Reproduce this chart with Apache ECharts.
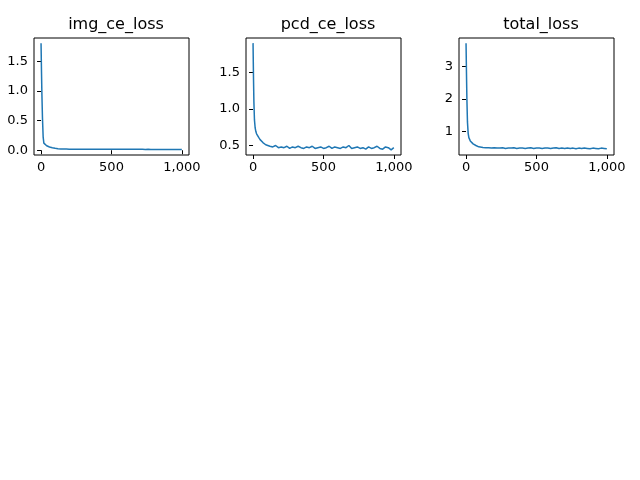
<!DOCTYPE html>
<html>
<head>
<meta charset="utf-8">
<script src="https://cdn.jsdelivr.net/npm/echarts@6/dist/echarts.min.js"></script>
<style>html,body{margin:0;background:#fff}#c{width:640px;height:480px}</style>
</head>
<body>
<div id="c"></div>
<script>
// training steps (sampled)
var steps = [0,3,6,10,15,20,25,30,40,50,60,70,80,90,100,
  120,140,160,180,200,220,240,260,280,300,320,340,360,380,400,420,440,460,480,500,520,540,560,580,600,620,640,660,680,700,720,740,760,780,800,820,840,860,880,900,920,940,960,980,999];

var imgLoss = [1.80,1.35,0.95,0.55,0.22,0.12,0.10,0.09,0.075,0.065,0.055,0.048,0.042,0.036,0.032,
  0.026,0.022,0.020,0.019,0.018, 0.018,0.017,0.017,0.017,0.016, 0.017,0.016,0.016,0.016,0.016,
  0.016,0.016,0.015,0.016,0.015, 0.015,0.015,0.015,0.015,0.015, 0.015,0.015,0.015,0.015,0.015,
  0.015,0.014,0.015,0.014,0.014, 0.014,0.014,0.014,0.014,0.014, 0.014,0.014,0.014,0.014,0.014];

var pcdLoss = [1.90,1.45,1.10,0.85,0.74,0.69,0.66,0.64,0.61,0.58,0.56,0.54,0.53,0.51,0.50,
  0.49,0.48,0.50,0.47,0.48, 0.47,0.49,0.46,0.48,0.47, 0.49,0.47,0.46,0.48,0.47,
  0.49,0.46,0.47,0.48,0.46, 0.47,0.49,0.46,0.48,0.47, 0.46,0.48,0.47,0.50,0.46,
  0.47,0.48,0.46,0.47,0.45, 0.48,0.46,0.47,0.49,0.46, 0.45,0.48,0.47,0.44,0.47];

var totalLoss = [3.70,2.80,2.00,1.30,0.95,0.82,0.76,0.72,0.67,0.63,0.60,0.58,0.56,0.54,0.53,
  0.52,0.51,0.51,0.50,0.51, 0.50,0.50,0.51,0.49,0.50, 0.50,0.51,0.49,0.50,0.50,
  0.49,0.50,0.51,0.49,0.50, 0.50,0.49,0.50,0.50,0.49, 0.50,0.51,0.49,0.50,0.49,
  0.50,0.49,0.50,0.48,0.50, 0.49,0.50,0.49,0.48,0.50, 0.49,0.48,0.50,0.49,0.48];

var titles = ['img_ce_loss', 'pcd_ce_loss', 'total_loss'];
var xTicks = [0, 500, 1000];
var yTicks = [[0, 0.5, 1.0, 1.5], [0.5, 1.0, 1.5], [1, 2, 3]];
var yRanges = [[-0.08, 1.89], [0.37, 1.97], [0.29, 3.86]];
var yDigits = [1, 1, 0];
var allData = [imgLoss, pcdLoss, totalLoss];

var lefts = [34, 246, 459];
var font = 'DejaVu Sans';

var chart = echarts.init(document.getElementById('c'));
var option = {
  animation: false,
  title: [], grid: [], xAxis: [], yAxis: [], series: []
};
for (var i = 0; i < 3; i++) {
  option.title.push({
    text: titles[i], left: lefts[i] + 77, top: 12, textAlign: 'center',
    textStyle: {fontFamily: font, fontSize: 16, fontWeight: 'normal', color: '#000'}
  });
  option.grid.push({
    left: lefts[i], top: 38, width: 155, height: 117,
    show: true, borderColor: '#000', borderWidth: 1, backgroundColor: '#fff'
  });
  option.xAxis.push({
    type: 'value', gridIndex: i, min: -50, max: 1050,
    axisLine: {show: false}, splitLine: {show: false},
    axisTick: {show: true, length: 4, customValues: xTicks, lineStyle: {color: '#000'}},
    axisLabel: {customValues: xTicks, fontFamily: font, fontSize: 13, color: '#000', margin: 6}
  });
  (function (d) {
    option.yAxis.push({
      type: 'value', gridIndex: i, min: yRanges[i][0], max: yRanges[i][1],
      axisLine: {show: false}, splitLine: {show: false},
      axisTick: {show: true, length: 4, customValues: yTicks[i], lineStyle: {color: '#000'}},
      axisLabel: {customValues: yTicks[i], fontFamily: font, fontSize: 13, color: '#000', margin: 6,
        formatter: function (v) { return v.toFixed(d); }}
    });
  })(yDigits[i]);
  option.series.push({
    type: 'line', xAxisIndex: i, yAxisIndex: i, showSymbol: false,
    lineStyle: {color: '#1f77b4', width: 1.5}, clip: true,
    data: steps.map(function (s, k) { return [s, allData[i][k]]; })
  });
}
chart.setOption(option);
</script>
</body>
</html>
